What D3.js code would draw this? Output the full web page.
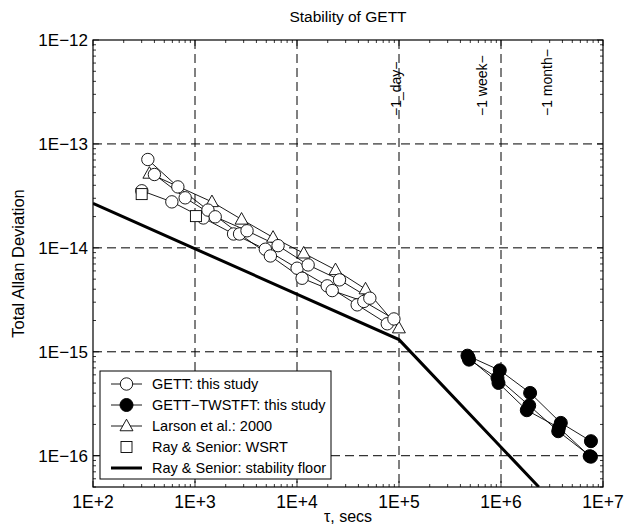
<!DOCTYPE html>
<html><head><meta charset="utf-8">
<script src="https://cdn.jsdelivr.net/npm/d3@7"></script>
<style>body{margin:0;background:#fff} text{font-family:"Liberation Sans",Arial,Helvetica,sans-serif;fill:#000}</style>
</head><body><svg id="c" width="626" height="531"></svg>
<script>
// ---- data ----
const xTicks = [1e2, 1e3, 1e4, 1e5, 1e6, 1e7];
const xTickLabels = ["1E+2", "1E+3", "1E+4", "1E+5", "1E+6", "1E+7"];
const yTicks = [1e-16, 1e-15, 1e-14, 1e-13, 1e-12];
const yTickLabels = ["1E−16", "1E−15", "1E−14", "1E−13", "1E−12"];

const gettA_tau  = [301, 593, 1205, 2388, 4893, 10020, 19770, 38920, 76740];
const gettA_adev = [3.54e-14, 2.77e-14, 1.94e-14, 1.36e-14, 9.70e-15, 6.37e-15, 4.31e-15, 2.83e-15, 1.86e-15];
const gettB_tau  = [345, 679, 1340, 2735, 5483, 11220, 22140, 45180, 89160];
const gettB_adev = [7.08e-14, 3.86e-14, 2.31e-14, 1.36e-14, 8.36e-15, 5.10e-15, 3.88e-15, 3.05e-15, 2.07e-15];
const gettC_tau  = [400, 801, 1578, 3236, 6522, 12860, 26100, 51770];
const gettC_adev = [5.08e-14, 3.03e-14, 1.99e-14, 1.46e-14, 1.05e-14, 6.85e-15, 4.92e-15, 3.28e-15];

const larson_tau  = [357, 1466, 2860, 5826, 11640, 23850, 46960, 99800];
const larson_adev = [5.20e-14, 2.77e-14, 1.88e-14, 1.26e-14, 8.88e-15, 6.14e-15, 4.01e-15, 1.69e-15];

const wsrt_tau  = [300, 1021];
const wsrt_adev = [3.29e-14, 2.02e-14];

const floor_tau  = [100, 1e5, 2.35e6];
const floor_adev = [2.68e-14, 1.31e-15, 5e-17];

const tw1_tau  = [4.69e5, 9.73e5, 1.93e6, 3.86e6, 7.62e6];
const tw1_adev = [9.18e-16, 6.63e-16, 4.02e-16, 2.07e-16, 1.38e-16];
const tw2_tau  = [4.86e5, 9.24e5, 1.89e6, 3.64e6, 7.62e6];
const tw2_adev = [8.40e-16, 5.60e-16, 3.04e-16, 1.72e-16, 9.78e-17];
const tw3_tau  = [4.80e5, 9.45e5, 1.79e6, 3.70e6, 7.40e6];
const tw3_adev = [8.80e-16, 5.01e-16, 2.74e-16, 1.86e-16, 9.90e-17];

const eventTau = [86400, 604800, 2592000];
const eventLabels = ["−1_day−", "−1 week−", "−1 month−"];

const legendLabels = ["GETT: this study", "GETT−TWSTFT: this study", "Larson et al.: 2000", "Ray & Senior: WSRT", "Ray & Senior: stability floor"];

// ---- layout ----
const L = 93, R = 603, T = 40, B = 487;
const svg = d3.select("#c");
const x = d3.scaleLog().domain([1e2, 1e7]).range([L, R]);
const y = d3.scaleLog().domain([5e-17, 1e-12]).range([B, T]);
const zip = (a, b) => a.map((v, i) => [v, b[i]]);
const line = d3.line().x(d => x(d[0])).y(d => y(d[1]));

// grid
const g = svg.append("g");
xTicks.slice(1, -1).forEach(t => g.append("line").attr("x1", x(t)).attr("x2", x(t)).attr("y1", T).attr("y2", B)
  .attr("stroke", "#000").attr("stroke-width", 1).attr("stroke-dasharray", "9,5"));
yTicks.slice(0, -1).forEach(t => g.append("line").attr("x1", L).attr("x2", R).attr("y1", y(t)).attr("y2", y(t))
  .attr("stroke", "#000").attr("stroke-width", 1).attr("stroke-dasharray", "9,5"));

// clip
svg.append("clipPath").attr("id", "clip").append("rect").attr("x", L).attr("y", T).attr("width", R - L).attr("height", B - T);
const plot = svg.append("g").attr("clip-path", "url(#clip)");

// floor
plot.append("path").attr("d", line(zip(floor_tau, floor_adev))).attr("fill", "none").attr("stroke", "#000").attr("stroke-width", 3);

// data lines
const series = [
  {d: zip(larson_tau, larson_adev), m: "tri"},
  {d: zip(gettA_tau, gettA_adev), m: "open"},
  {d: zip(gettB_tau, gettB_adev), m: "open"},
  {d: zip(gettC_tau, gettC_adev), m: "open"},
  {d: zip(tw1_tau, tw1_adev), m: "fill"},
  {d: zip(tw2_tau, tw2_adev), m: "fill"},
  {d: zip(tw3_tau, tw3_adev), m: "fill"}
];
series.forEach(s => plot.append("path").attr("d", line(s.d)).attr("fill", "none").attr("stroke", "#000").attr("stroke-width", 0.9));

const triPath = (cx, cy, r) => `M${cx},${cy - r}L${cx + r * 0.95},${cy + r * 0.7}L${cx - r * 0.95},${cy + r * 0.7}Z`;
function marker(sel, kind, cx, cy) {
  if (kind === "open") sel.append("circle").attr("cx", cx).attr("cy", cy).attr("r", 6.2).attr("fill", "#fff").attr("stroke", "#000").attr("stroke-width", 0.9);
  else if (kind === "fill") sel.append("circle").attr("cx", cx).attr("cy", cy).attr("r", 6.5).attr("fill", "#000").attr("stroke", "#000");
  else if (kind === "tri") sel.append("path").attr("d", triPath(cx, cy, 6.8)).attr("fill", "#fff").attr("stroke", "#000").attr("stroke-width", 0.9);
  else if (kind === "sq") sel.append("rect").attr("x", cx - 5.5).attr("y", cy - 5.5).attr("width", 11).attr("height", 11).attr("fill", "#fff").attr("stroke", "#000").attr("stroke-width", 0.9);
}
series.forEach(s => s.d.forEach(p => marker(plot, s.m, x(p[0]), y(p[1]))));
zip(wsrt_tau, wsrt_adev).forEach(p => marker(plot, "sq", x(p[0]), y(p[1])));

// event labels
eventTau.forEach((t, i) => svg.append("text").attr("transform", `translate(${x(t) + 8.5},116) rotate(-90)`)
  .attr("font-size", 14).text(eventLabels[i]));

// axes box and ticks
svg.append("rect").attr("x", L).attr("y", T).attr("width", R - L).attr("height", B - T).attr("fill", "none").attr("stroke", "#000").attr("stroke-width", 1.2);
const tk = svg.append("g").attr("stroke", "#000").attr("stroke-width", 0.8);
function xtick(v, len) {
  tk.append("line").attr("x1", x(v)).attr("x2", x(v)).attr("y1", B).attr("y2", B - len);
  tk.append("line").attr("x1", x(v)).attr("x2", x(v)).attr("y1", T).attr("y2", T + len);
}
function ytick(v, len) {
  tk.append("line").attr("y1", y(v)).attr("y2", y(v)).attr("x1", L).attr("x2", L + len);
  tk.append("line").attr("y1", y(v)).attr("y2", y(v)).attr("x1", R).attr("x2", R - len);
}
xTicks.forEach(v => xtick(v, 6));
xTicks.slice(0, -1).forEach(d => d3.range(2, 10).forEach(k => xtick(k * d, 3)));
yTicks.forEach(v => ytick(v, 6));
[1e-17, 1e-16, 1e-15, 1e-14, 1e-13].forEach(d => d3.range(2, 10).forEach(k => { const v = k * d; if (v >= 5e-17 && v < 1e-12) ytick(v, 3); }));

xTicks.forEach((v, i) => svg.append("text").attr("x", x(v)).attr("y", B + 21).attr("text-anchor", "middle").attr("font-size", 17.5).text(xTickLabels[i]));
yTicks.forEach((v, i) => svg.append("text").attr("x", L - 5).attr("y", y(v) + 6).attr("text-anchor", "end").attr("font-size", 17).text(yTickLabels[i]));

svg.append("text").attr("x", (L + R) / 2).attr("y", 22).attr("text-anchor", "middle").attr("font-size", 15.5).text("Stability of GETT");
svg.append("text").attr("x", (L + R) / 2).attr("y", 522).attr("text-anchor", "middle").attr("font-size", 16).text("τ, secs");
svg.append("text").attr("transform", `translate(24,${(T + B) / 2}) rotate(-90)`).attr("text-anchor", "middle").attr("font-size", 16.5).text("Total Allan Deviation");

// legend
const lg = svg.append("g");
lg.append("rect").attr("x", 100).attr("y", 371).attr("width", 231).attr("height", 108).attr("fill", "#fff").attr("stroke", "#000").attr("stroke-width", 1);
const kinds = ["open", "fill", "tri", "sq", "floor"];
legendLabels.forEach((lab, i) => {
  const cy = 384 + i * 21;
  if (kinds[i] === "floor") lg.append("line").attr("x1", 111).attr("x2", 142).attr("y1", cy).attr("y2", cy).attr("stroke", "#000").attr("stroke-width", 3);
  else {
    if (kinds[i] !== "sq") lg.append("line").attr("x1", 111).attr("x2", 142).attr("y1", cy).attr("y2", cy).attr("stroke", "#000").attr("stroke-width", 0.9);
    marker(lg, kinds[i], 126.5, cy);
  }
  lg.append("text").attr("x", 152).attr("y", cy + 5).attr("font-size", 14.5).text(lab);
});
</script></body></html>
